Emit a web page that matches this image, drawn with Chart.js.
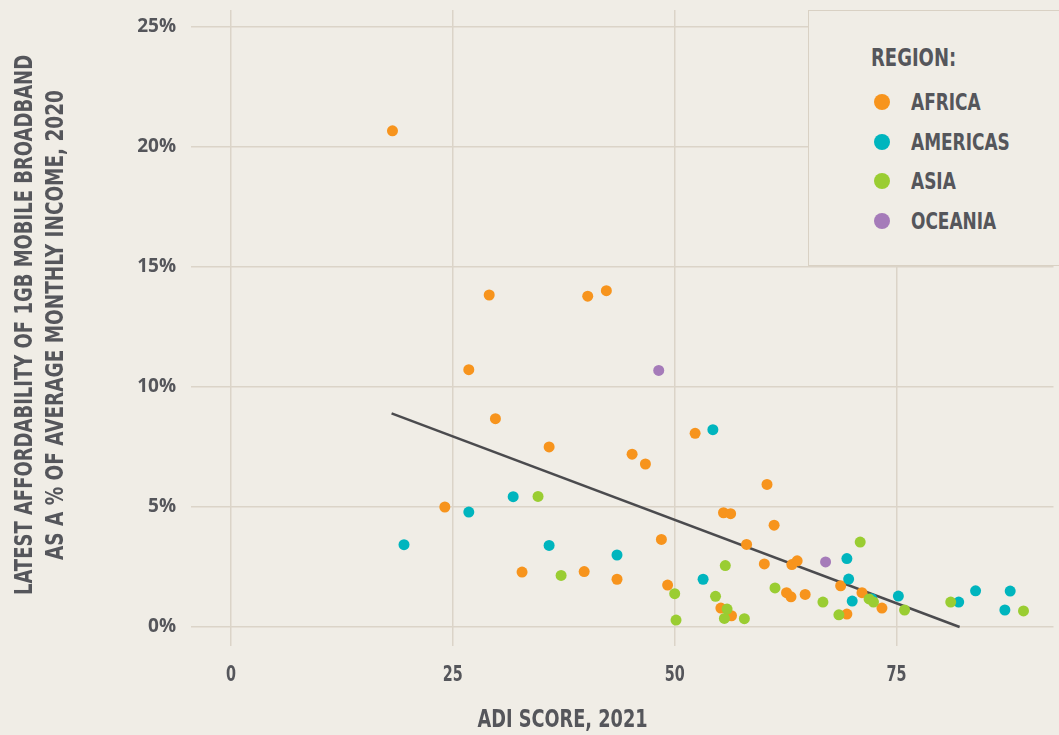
<!DOCTYPE html>
<html>
<head>
<meta charset="utf-8">
<script src="https://cdn.jsdelivr.net/npm/chart.js@4.4.1/dist/chart.umd.min.js"></script>
<style>
  html, body { margin: 0; padding: 0; background: #f0ede6; }
  #wrap { position: relative; width: 1059px; height: 735px; overflow: hidden; }
  .cond { font-family: 'DejaVu Sans Condensed', 'DejaVu Sans', sans-serif; font-weight: bold; color: #55565b; }
  .fit { display: inline-block; white-space: nowrap; }
  #ytitle { position: absolute; left: -410px; top: 294px; width: 900px; height: 62px; line-height: 31px;
            font-size: 24px; text-align: center; transform: rotate(-90deg); white-space: nowrap; }
  #ytitle .fit { transform-origin: center; }
  #xtitle { position: absolute; left: 263px; top: 704px; width: 600px; line-height: 30px; font-size: 24px; text-align: center; }
  #xtitle .fit { transform-origin: center; }
  #legend { position: absolute; left: 808px; top: 10px; width: 270px; height: 256px;
            border: 1.5px solid #d9d1c4; background: #f0ede6; box-sizing: border-box; }
  #legend .head { position: absolute; left: 62px; top: 32px; font-size: 24px; line-height: 30px; transform-origin: left center; }
  #legend .item { position: absolute; left: 65px; height: 30px; line-height: 30px; font-size: 23px; }
  #legend .dot { display: inline-block; width: 16px; height: 16px; border-radius: 50%; vertical-align: middle; margin-right: 21px; margin-top: -3px; }
  #legend .lab { display: inline-block; transform-origin: left center; }
</style>
</head>
<body>
<div id="wrap">
  <canvas id="chart" width="1059" height="735"></canvas>
  <div id="ytitle" class="cond"><span class="fit" data-w="540">LATEST AFFORDABILITY OF 1GB MOBILE BROADBAND</span><br><span class="fit" data-w="470">AS A % OF AVERAGE MONTHLY INCOME, 2020</span></div>
  <div id="xtitle" class="cond"><span class="fit" data-w="170">ADI SCORE, 2021</span></div>
  <div id="legend" class="cond"><div class="head fit" data-w="85">REGION:</div></div>
</div>
<script>
// Data
const regions = ['AFRICA', 'AMERICAS', 'ASIA', 'OCEANIA'];
const regionColors = ['#f7941d', '#00b5be', '#9acd32', '#a57bb9'];

const africaX = [18.2, 29.1, 40.2, 42.3, 26.8, 29.8, 35.85, 45.2, 46.7, 52.3, 24.1, 60.4, 55.5, 56.3, 61.2, 48.5, 58.1,
  60.1, 63.2, 63.8, 68.7, 71.1, 32.8, 39.8, 43.5, 49.2, 62.6, 63.1, 64.7, 73.35, 55.2, 56.4, 69.4];
const africaY = [20.67, 13.83, 13.78, 14.01, 10.72, 8.68, 7.5, 7.2, 6.79, 8.07, 5.0, 5.94, 4.76, 4.72, 4.24, 3.65, 3.44,
  2.63, 2.6, 2.76, 1.72, 1.43, 2.29, 2.31, 1.99, 1.75, 1.43, 1.26, 1.36, 0.79, 0.79, 0.47, 0.54];

const americasX = [54.3, 31.8, 26.8, 19.5, 35.85, 43.5, 69.4, 69.6, 53.2, 70.0, 72.2, 75.2, 82.0, 83.9, 87.8, 87.2];
const americasY = [8.22, 5.43, 4.79, 3.43, 3.4, 3.0, 2.85, 2.0, 1.99, 1.08, 1.18, 1.29, 1.04, 1.51, 1.5, 0.71];

const asiaX = [34.6, 37.2, 50.0, 50.15, 70.9, 55.7, 54.6, 61.3, 66.7, 71.9, 72.4, 75.9, 55.9, 55.6, 57.85, 68.5, 81.1, 89.3];
const asiaY = [5.44, 2.15, 1.39, 0.29, 3.54, 2.56, 1.28, 1.63, 1.04, 1.17, 1.04, 0.71, 0.75, 0.36, 0.35, 0.51, 1.04, 0.67];

const oceaniaX = [48.2, 67.0];
const oceaniaY = [10.69, 2.71];

// trend line end points
const trendX = [18.1, 82.1];
const trendY = [8.9, 0.0];

const xTicks = [0, 25, 50, 75];
const yTicks = [0, 5, 10, 15, 20, 25];

const seriesX = [africaX, americasX, asiaX, oceaniaX];
const seriesY = [africaY, americasY, asiaY, oceaniaY];

function toPoints(xs, ys) {
  return xs.map((x, i) => ({ x: x, y: ys[i] }));
}

const textColor = '#55565b';
const gridColor = '#dbd4c8';
const condFont = "'DejaVu Sans Condensed', 'DejaVu Sans', sans-serif";

const datasets = regions.map((name, i) => ({
  label: name,
  type: 'scatter',
  data: toPoints(seriesX[i], seriesY[i]),
  backgroundColor: regionColors[i],
  borderWidth: 0,
  pointRadius: 5.5,
  order: 3 - i
}));

datasets.push({
  label: 'trend',
  type: 'line',
  data: toPoints(trendX, trendY),
  borderColor: '#4b4b4e',
  borderWidth: 2.5,
  pointRadius: 0,
  fill: false,
  order: 10
});

// HTML legend
const legend = document.getElementById('legend');
regions.forEach((name, i) => {
  const item = document.createElement('div');
  item.className = 'item';
  item.style.top = (76 + i * 39.5) + 'px';
  item.innerHTML = '<span class="dot" style="background:' + regionColors[i] + '"></span><span class="lab">' + name + '</span>';
  legend.appendChild(item);
});

// squeeze text to a narrow look (the reference uses a condensed face)
document.querySelectorAll('.fit').forEach(el => {
  const w = el.offsetWidth;
  el.style.transform = 'scaleX(' + (+el.dataset.w / w) + ')';
});
document.querySelectorAll('#legend .lab').forEach(el => {
  el.style.transform = 'scaleX(0.82)';
});

// x tick labels drawn narrow, at the scale's own tick positions
const narrowXTicks = {
  id: 'narrowXTicks',
  afterDraw(chart) {
    const c = chart.ctx;
    const xs = chart.scales.x;
    c.save();
    c.fillStyle = textColor;
    c.font = 'bold 21px ' + condFont;
    c.textAlign = 'center';
    c.textBaseline = 'alphabetic';
    xs.ticks.forEach(t => {
      const px = xs.getPixelForValue(t.value);
      c.save();
      c.translate(px, 681);
      c.scale(0.76, 1);
      c.fillText(String(t.value), 0, 0);
      c.restore();
    });
    c.restore();
  }
};

const ctx = document.getElementById('chart').getContext('2d');
new Chart(ctx, {
  data: { datasets: datasets },
  plugins: [narrowXTicks],
  options: {
    responsive: false,
    animation: false,
    layout: { padding: { top: 10, left: 0, right: -6, bottom: 0 } },
    plugins: {
      legend: { display: false },
      tooltip: { enabled: false }
    },
    scales: {
      x: {
        type: 'linear',
        min: -4.5,
        max: 92.68,
        afterFit: function(scale) {
          scale.height = 89;
          scale.paddingLeft = 0;
          scale.paddingRight = 0;
        },
        afterBuildTicks: function(scale) { scale.ticks = xTicks.map(v => ({ value: v })); },
        grid: { color: gridColor, lineWidth: 1.5, drawTicks: false },
        border: { display: false },
        ticks: { display: false }
      },
      y: {
        type: 'linear',
        min: -0.79,
        max: 25.7,
        afterFit: function(scale) {
          scale.width = 191;
          scale.paddingTop = 0;
          scale.paddingBottom = 0;
        },
        afterBuildTicks: function(scale) { scale.ticks = yTicks.map(v => ({ value: v })); },
        grid: { color: gridColor, lineWidth: 1.5, drawTicks: false },
        border: { display: false },
        ticks: {
          padding: 15,
          color: textColor,
          font: { family: "'Open Sans', sans-serif", size: 19, weight: 'bold' },
          callback: v => v + '%'
        }
      }
    }
  }
});
</script>
</body>
</html>
